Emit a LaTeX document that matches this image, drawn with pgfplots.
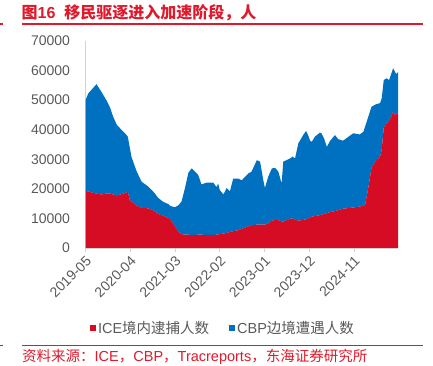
\documentclass[border=0pt]{standalone}
\usepackage{fontspec}
\setmainfont{Liberation Sans}
\newfontfamily\cjk{Noto Sans CJK SC}
\usepackage{pgfplots}
\pgfplotsset{compat=1.18}
\usepackage{pgfplotstable}
\definecolor{icered}{RGB}{214,12,36}
\definecolor{cbpblue}{RGB}{0,112,192}
\definecolor{hred}{RGB}{222,26,44}
\definecolor{tickgray}{RGB}{89,89,89}
\definecolor{axgray}{RGB}{210,210,210}

\pgfplotstableread{
m ice cbp
0 19300 30700
0.7 19100 33200
2.7 18400 37000
4.0 18100 34500
5.2 18500 31300
6.0 18400 29200
6.8 18100 26300
7.7 17800 23800
8.9 18200 21700
10.1 18800 19400
10.4 19000 18600
10.9 16200 17600
11.3 15700 15100
12.6 14300 11500
13.8 13600 8800
15.4 13400 7400
16.7 12700 6300
17.9 11500 5400
19.1 10900 4700
20.3 10200 4700
20.9 9400 4800
21.6 8200 5700
22.0 7300 6500
22.8 5500 8900
23.6 4700 11000
24.4 4500 15500
25.3 4500 21000
26.1 4400 22500
26.9 4400 21400
27.7 4500 20200
28.5 4500 17000
29.8 4400 17700
31.4 4400 17700
32.2 4500 16100
32.6 4600 17200
33.0 4700 14900
33.9 4900 13200
34.7 5100 15200
35.5 5400 13800
36.3 5700 17800
37.5 6000 17500
38.4 6500 16400
40.0 7300 17900
40.8 7700 18100
42.1 7900 21800
42.9 7900 21300
43.7 7900 15000
44.1 7900 12400
44.9 8300 15800
45.8 9200 17700
46.6 9500 17600
47.4 9400 16400
48.2 9000 12800
48.6 8900 20300
49.4 9400 20300
50.3 9900 20400
50.9 9900 21000
51.5 9600 20700
52.3 9200 26200
53.0 9400 27600
53.5 9500 28700
54.2 9700 29900
54.7 10000 28200
55.2 10300 26000
55.6 10600 25300
56.4 10800 26900
57.6 11100 27900
58.0 11300 27500
58.6 11500 25600
59.3 11800 22400
60.1 12100 24100
61.3 12500 25700
62.1 12800 24000
63.3 13300 23000
64.6 13500 24100
65.8 13700 25100
67.4 14000 24400
68.3 14300 25000
68.7 14500 26500
69.5 20400 24000
70.3 27200 20600
71.4 29600 19000
72.4 30800 18200
72.8 33400 17300
73.3 40700 16100
74.0 42100 15300
74.6 43000 13800
75.2 44500 14600
75.6 46300 14500
76.0 45000 14700
76.4 45300 13500
76.8 45500 14000
}\data

\begin{document}
\begin{tikzpicture}[x=1pt,y=1pt]
\path[use as bounding box] (0,0) rectangle (433,366);
\node[anchor=west, inner sep=0, text=hred, font=\fontsize{16}{18}\selectfont\bfseries] at (21.5,353.5) {{\cjk 图}16\hspace{9pt}{\cjk 移民驱逐进入加速阶段，人}};
\draw[hred, line width=1.2pt] (22,342) -- (423,342);
\draw[hred, line width=1.2pt] (0,342) -- (3,342);
\begin{axis}[
  at={(85.5pt,118pt)}, anchor=south west,
  scale only axis, width=312.5pt, height=207pt,
  xmin=0, xmax=76.8, ymin=0, ymax=70000,
  axis x line*=bottom, axis y line*=left,
  axis line style={axgray, line width=0.8pt},
  xtick={0,11,22,33,44,55,66},
  xticklabels={2019-05,2020-04,2021-03,2022-02,2023-01,2023-12,2024-11},
  ytick={0,10000,...,70000},
  scaled y ticks=false,
  /pgf/number format/1000 sep={},
  /pgf/number format/assume math mode=true,
  tick align=outside, major tick length=4pt,
  x tick style={axgray, line width=0.8pt},
  y tick style={draw=none},
  tick label style={font=\fontsize{14}{16}\selectfont, text=tickgray},
  xticklabel style={rotate=45, anchor=east, xshift=1pt, yshift=-7pt},
  yticklabel style={anchor=east, xshift=-8pt},
  stack plots=y,
  legend style={at={(0.44,-0.386)}, anchor=center, draw=none, fill=none,
    font=\fontsize{14.5}{16}\selectfont, text=tickgray,
    /tikz/every even column/.append style={column sep=18pt}},
  legend columns=2,
  legend image code/.code={\fill[#1] (0pt,-3pt) rectangle (6pt,3pt);},
]
\addplot[fill=icered, draw=none] table[x=m, y=ice] {\data} \closedcycle;
\addlegendentry{ICE{\cjk 境内逮捕人数}}
\addplot[fill=cbpblue, draw=none] table[x=m, y=cbp] {\data} \closedcycle;
\addlegendentry{CBP{\cjk 边境遭遇人数}}
\end{axis}
\draw[hred, line width=1pt] (22,20) -- (423,20);
\draw[hred, line width=1pt] (0,20) -- (3,20);
\node[anchor=west, inner sep=0, text=hred, font=\fontsize{14.5}{16}\selectfont] at (22,9) {{\cjk 资料来源：}ICE{\cjk ，}CBP{\cjk ，}Tracreports{\cjk ，东海证券研究所}};
\end{tikzpicture}
\end{document}
